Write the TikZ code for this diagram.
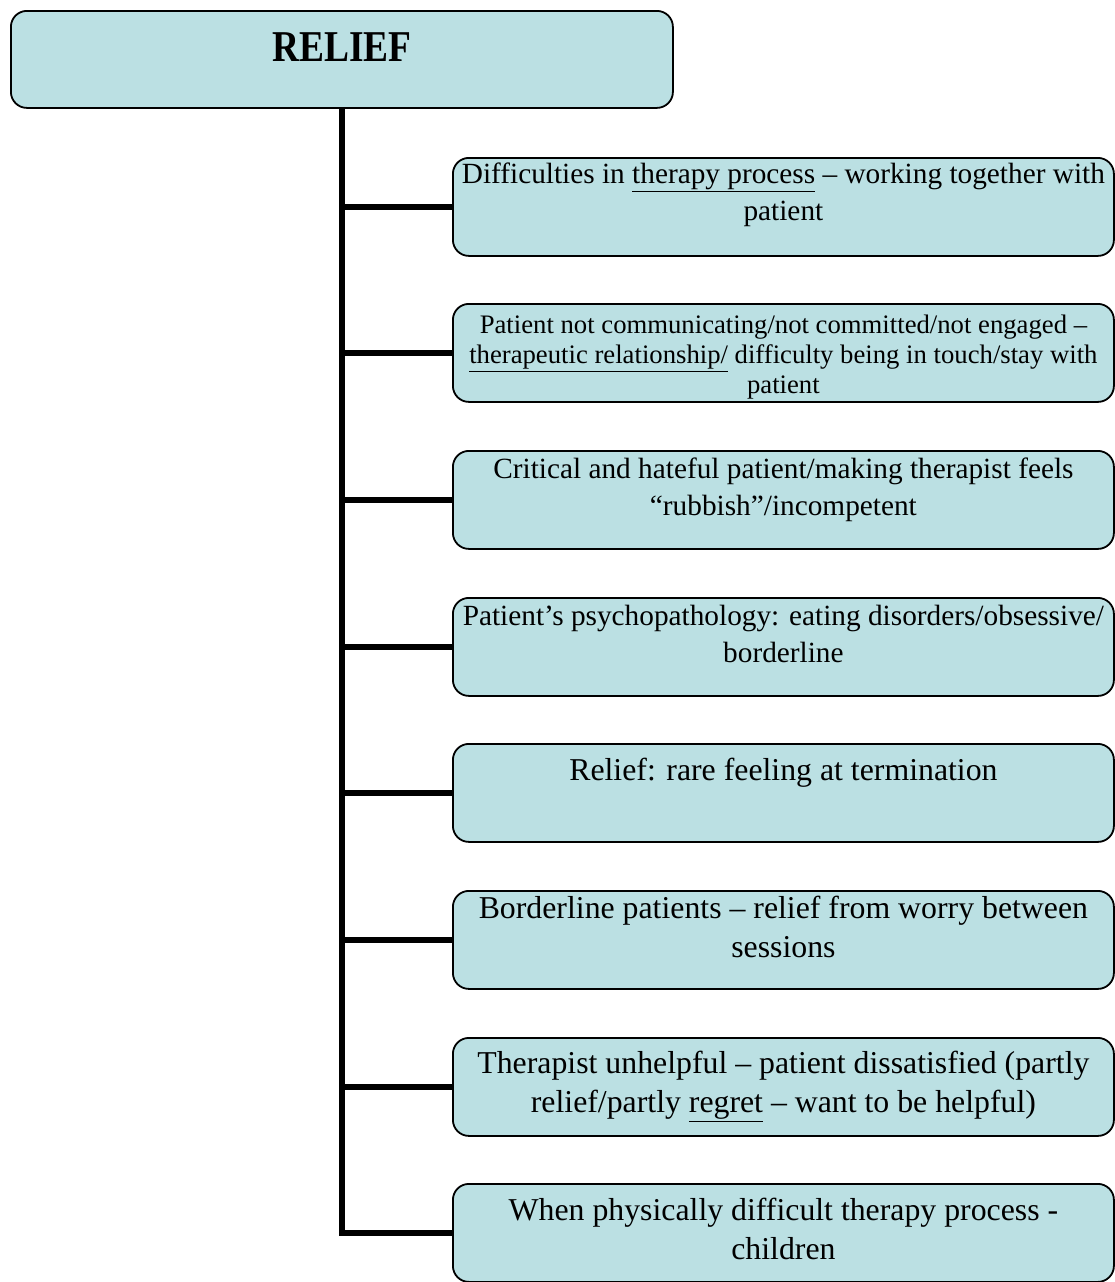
\documentclass[tikz,border=0pt]{standalone}
\usepackage{fontspec}
\setmainfont{Liberation Serif}
\newfontfamily\rootfont{Liberation Serif}[FakeStretch=0.85]
\definecolor{boxfill}{HTML}{BBE0E3}
\tikzset{
  rootbox/.style={draw=black, line width=1.8pt, fill=boxfill, rounded corners=16pt,
    minimum width=662pt, minimum height=97pt, inner sep=0pt, anchor=north west},
  childbox/.style={draw=black, line width=1.8pt, fill=boxfill, rounded corners=16pt,
    minimum width=661pt, minimum height=98pt, inner sep=0pt, anchor=north west},
  trunk/.style={line width=6pt, black}
}
\newcommand{\ul}[1]{\underline{#1}}
\newcommand{\fsA}{\fontsize{29.3}{37}\selectfont}
\newcommand{\fsB}{\fontsize{31.8}{39}\selectfont}
\newcommand{\fsC}{\fontsize{26.7}{30}\selectfont}
\newcommand{\boxtext}[3]{\parbox[c][98pt][t]{661pt}{\centering #1\rule{0pt}{#2}#3}}
\begin{document}
\begin{tikzpicture}[x=1pt,y=-1pt]
\useasboundingbox (0,0) rectangle (1114,1282);
\node[rootbox] (root) at (10,10) {\parbox[c][97pt][t]{662pt}{\centering\fontsize{44}{48}\rootfont\bfseries\rule{0pt}{51pt}RELIEF}};
\node[childbox] (c1) at (452,157) {\boxtext{\fsA}{26pt}{Difficulties in \ul{therapy process} -- working together with\\ patient}};
\node[childbox] (c2) at (452,303) {\boxtext{\fsC}{30pt}{Patient not communicating/not committed/not engaged --\\ \ul{therapeutic relationship/} difficulty being in touch/stay with\\ patient}};
\node[childbox] (c3) at (452,450) {\boxtext{\fsA}{28pt}{Critical and hateful patient/making therapist feels\\ ``rubbish''/incompetent}};
\node[childbox] (c4) at (452,597) {\boxtext{\fsA}{28pt}{Patient’s psychopathology: eating disorders/obsessive/\\ borderline}};
\node[childbox] (c5) at (452,743) {\boxtext{\fsB}{37pt}{Relief: rare feeling at termination}};
\node[childbox] (c6) at (452,890) {\boxtext{\fsB}{28pt}{Borderline patients -- relief from worry between\\ sessions}};
\node[childbox] (c7) at (452,1037) {\boxtext{\fsB}{36pt}{Therapist unhelpful -- patient dissatisfied (partly\\ relief/partly \ul{regret} -- want to be helpful)}};
\node[childbox] (c8) at (452,1183) {\boxtext{\fsB}{37pt}{When physically difficult therapy process -\\ children}};
\draw[trunk] (root.south) |- (c8.west);
\foreach \i in {1,...,7} {
  \draw[trunk] (root.south |- c\i.west) -- (c\i.west);
}
\end{tikzpicture}
\end{document}
